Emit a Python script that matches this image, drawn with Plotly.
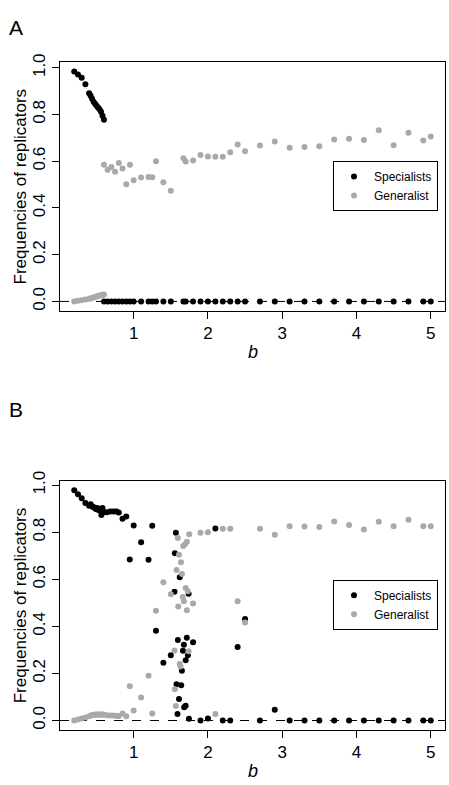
import plotly.graph_objects as go

# ---------------- Panel A data ----------------
A_spec_b = [0.2, 0.25, 0.3, 0.35, 0.40, 0.42, 0.44, 0.46, 0.48, 0.50, 0.52, 0.54, 0.56, 0.58, 0.60,
            0.60, 0.65, 0.70, 0.75, 0.80, 0.85, 0.90, 0.95, 1.0, 1.1, 1.2, 1.25, 1.3, 1.4, 1.5,
            1.67, 1.7, 1.8, 1.9, 2.0, 2.1, 2.2, 2.3, 2.4, 2.5, 2.7, 2.9, 3.1, 3.3, 3.5, 3.7,
            3.9, 4.1, 4.3, 4.5, 4.7, 4.9, 5.0]
A_spec_v = [0.984, 0.971, 0.957, 0.930, 0.891, 0.880, 0.867, 0.855, 0.846, 0.838, 0.830, 0.822, 0.812, 0.795, 0.778,
            0, 0, 0, 0, 0, 0, 0, 0, 0, 0, 0, 0, 0, 0, 0,
            0, 0, 0, 0, 0, 0, 0, 0, 0, 0, 0, 0, 0, 0, 0, 0,
            0, 0, 0, 0, 0, 0, 0]

A_gen_b = [0.2, 0.25, 0.3, 0.35, 0.40, 0.42, 0.44, 0.46, 0.48, 0.50, 0.52, 0.54, 0.56, 0.58, 0.60,
           0.60, 0.65, 0.70, 0.75, 0.80, 0.85, 0.90, 0.95, 1.0, 1.1, 1.2, 1.25, 1.3, 1.4, 1.5,
           1.67, 1.7, 1.8, 1.9, 2.0, 2.1, 2.2, 2.3, 2.4, 2.5, 2.7, 2.9, 3.1, 3.3, 3.5, 3.7,
           3.9, 4.1, 4.3, 4.5, 4.7, 4.9, 5.0]
A_gen_v = [0.0, 0.003, 0.005, 0.008, 0.011, 0.013, 0.015, 0.017, 0.019, 0.021, 0.023, 0.025, 0.026, 0.028, 0.030,
           0.585, 0.564, 0.575, 0.555, 0.592, 0.569, 0.502, 0.585, 0.519, 0.530, 0.533, 0.531, 0.600, 0.510, 0.474,
           0.613, 0.599, 0.603, 0.627, 0.620, 0.619, 0.619, 0.638, 0.672, 0.643, 0.667, 0.685, 0.658, 0.661, 0.664, 0.693,
           0.696, 0.691, 0.733, 0.668, 0.722, 0.689, 0.706]

# ---------------- Panel B data ----------------
B_spec_b = [0.2, 0.25, 0.3, 0.35, 0.40, 0.42, 0.44, 0.45, 0.47, 0.49, 0.51, 0.52, 0.54, 0.565, 0.58, 0.60,
            0.64, 0.687, 0.73, 0.767, 0.80, 0.85, 0.90, 0.947, 1.0, 1.1, 1.2, 1.25, 1.3, 1.4, 1.5,
            1.568, 1.555, 1.62, 1.55, 1.74, 1.595, 1.716, 1.80, 1.676, 1.663, 1.73, 1.70, 1.649,
            1.577, 1.64, 1.61, 1.70, 1.68, 1.59, 1.744,
            1.9, 2.0, 2.1, 2.2, 2.3, 2.4, 2.5, 2.7, 2.9, 3.1, 3.3, 3.5, 3.7, 3.9, 4.1, 4.3, 4.5, 4.7, 4.9, 5.0]
B_spec_v = [0.979, 0.962, 0.945, 0.924, 0.913, 0.919, 0.910, 0.908, 0.905, 0.899, 0.903, 0.896, 0.892, 0.873, 0.903, 0.885,
            0.885, 0.888, 0.888, 0.888, 0.884, 0.857, 0.867, 0.684, 0.829, 0.758, 0.683, 0.828, 0.381, 0.245, 0.277,
            0.798, 0.711, 0.609, 0.547, 0.539, 0.342, 0.352, 0.333, 0.322, 0.296, 0.277, 0.256, 0.211,
            0.154, 0.150, 0.091, 0.063, 0.056, 0.028, 0.007,
            0.0, 0.008, 0.816, 0.0, 0.0, 0.312, 0.431, 0.0, 0.046, 0, 0, 0, 0, 0, 0, 0, 0, 0, 0, 0]

B_gen_b = [0.2, 0.25, 0.3, 0.35, 0.40, 0.42, 0.44, 0.45, 0.47, 0.49, 0.51, 0.52, 0.54, 0.565, 0.58, 0.60,
           0.64, 0.687, 0.73, 0.767, 0.80, 0.85, 0.90, 0.947, 1.0, 1.1, 1.2, 1.25, 1.3, 1.4, 1.5,
           1.595, 1.748, 1.716, 1.69, 1.667, 1.61, 1.636, 1.577, 1.65, 1.70, 1.73, 1.66, 1.676,
           1.80, 1.60, 1.716, 1.55, 1.74, 1.62, 1.63, 1.555, 1.568,
           1.9, 2.0, 2.1, 2.2, 2.3, 2.4, 2.5, 2.7, 2.9, 3.1, 3.3, 3.5, 3.7, 3.9, 4.1, 4.3, 4.5, 4.7, 4.9, 5.0]
B_gen_v = [0.0, 0.004, 0.008, 0.013, 0.018, 0.021, 0.022, 0.023, 0.024, 0.025, 0.024, 0.025, 0.025, 0.024, 0.027, 0.024,
           0.022, 0.021, 0.021, 0.019, 0.019, 0.030, 0.018, 0.146, 0.042, 0.098, 0.190, 0.030, 0.466, 0.587, 0.537,
           0.776, 0.791, 0.760, 0.749, 0.742, 0.704, 0.672, 0.640, 0.623, 0.563, 0.549, 0.525, 0.507,
           0.497, 0.484, 0.469, 0.297, 0.294, 0.240, 0.230, 0.133, 0.062,
           0.798, 0.800, 0.028, 0.815, 0.815, 0.507, 0.416, 0.815, 0.789, 0.825, 0.824, 0.822, 0.846,
           0.831, 0.812, 0.845, 0.825, 0.853, 0.826, 0.825]

x_ticks = [1, 2, 3, 4, 5]
y_ticks = [0.0, 0.2, 0.4, 0.6, 0.8, 1.0]
y_tick_text = ["0.0", "0.2", "0.4", "0.6", "0.8", "1.0"]
series_names = ["Specialists", "Generalist"]

BLACK = "#000000"
GREY = "#A9A9A9"
FONT = "Liberation Sans, Arial, Helvetica, sans-serif"


def r_range(vals):
    lo, hi = min(vals), max(vals)
    pad = 0.04 * (hi - lo)
    return [lo - pad, hi + pad]


fig = go.Figure()

panels = [
    ("x", "y", "legend", A_spec_b, A_spec_v, A_gen_b, A_gen_v),
    ("x2", "y2", "legend2", B_spec_b, B_spec_v, B_gen_b, B_gen_v),
]
for xa, ya, lg, sb, sv, gb, gv in panels:
    fig.add_trace(go.Scatter(x=sb, y=sv, mode="markers", name=series_names[0],
                             marker=dict(color=BLACK, size=6, line=dict(width=0)),
                             xaxis=xa, yaxis=ya, legend=lg))
    fig.add_trace(go.Scatter(x=gb, y=gv, mode="markers", name=series_names[1],
                             marker=dict(color=GREY, size=6, line=dict(width=0)),
                             xaxis=xa, yaxis=ya, legend=lg))

W, H = 449, 785
xdom = [60 / W, 445 / W]
ydomA = [1 - 304.5 / H, 1 - 53 / H]
ydomB = [1 - 729 / H, 1 - 477 / H]

xr = r_range(A_spec_b + A_gen_b)
yrA = r_range(A_spec_v + A_gen_v)
yrB = r_range(B_spec_v + B_gen_v)

axis_common = dict(showline=True, mirror=True, linecolor="black", linewidth=1,
                   ticks="outside", ticklen=7, tickcolor="black", tickwidth=1,
                   showgrid=False, zeroline=False,
                   tickfont=dict(family=FONT, size=17, color="black"))

legend_common = dict(xanchor="right", yanchor="top",
                     bordercolor="black", borderwidth=1, bgcolor="white",
                     font=dict(family=FONT, size=12, color="black"),
                     itemwidth=30, tracegroupgap=0)

fig.update_layout(
    width=W, height=H,
    margin=dict(l=0, r=0, t=0, b=0),
    paper_bgcolor="white", plot_bgcolor="white",
    xaxis=dict(domain=xdom, range=xr, anchor="y", tickvals=x_ticks, **axis_common),
    yaxis=dict(domain=ydomA, range=yrA, anchor="x", tickvals=y_ticks, ticktext=y_tick_text,
               tickangle=-90, **axis_common),
    xaxis2=dict(domain=xdom, range=xr, anchor="y2", tickvals=x_ticks, **axis_common),
    yaxis2=dict(domain=ydomB, range=yrB, anchor="x2", tickvals=y_ticks, ticktext=y_tick_text,
                tickangle=-90, **axis_common),
    legend=dict(x=438 / W, y=1 - 153 / H, **legend_common),
    legend2=dict(x=438 / W, y=1 - 577 / H, **legend_common),
    showlegend=True,
)

# dashed zero lines
for xa, ya in [("x", "y"), ("x2", "y2")]:
    fig.add_shape(type="line", xref=f"{xa} domain", yref=ya, x0=0, x1=1, y0=0, y1=0,
                  line=dict(color="black", width=1, dash="dash"), layer="below")

# labels
ann = []
for yc in [(53 + 304.5) / 2, (477 + 729) / 2]:
    ann.append(dict(text="Frequencies of replicators", x=20 / W, y=1 - yc / H, xref="paper", yref="paper",
                    showarrow=False, textangle=-90, font=dict(family=FONT, size=17, color="black"),
                    xanchor="center", yanchor="middle"))
for yc in [346, 771]:
    ann.append(dict(text="<i>b</i>", x=252.5 / W, y=1 - yc / H, xref="paper", yref="paper",
                    showarrow=False, font=dict(family=FONT, size=18, color="black"),
                    xanchor="center", yanchor="middle"))
for letter, yc in [("A", 18), ("B", 405)]:
    ann.append(dict(text=letter, x=16 / W, y=1 - yc / H, xref="paper", yref="paper",
                    showarrow=False, font=dict(family=FONT, size=21, color="black"),
                    xanchor="center", yanchor="middle"))
fig.update_layout(annotations=ann)

fig.write_html("out.html",
               config={"displayModeBar": False},
               post_script="document.body.style.margin='0';document.body.style.overflow='hidden';")
